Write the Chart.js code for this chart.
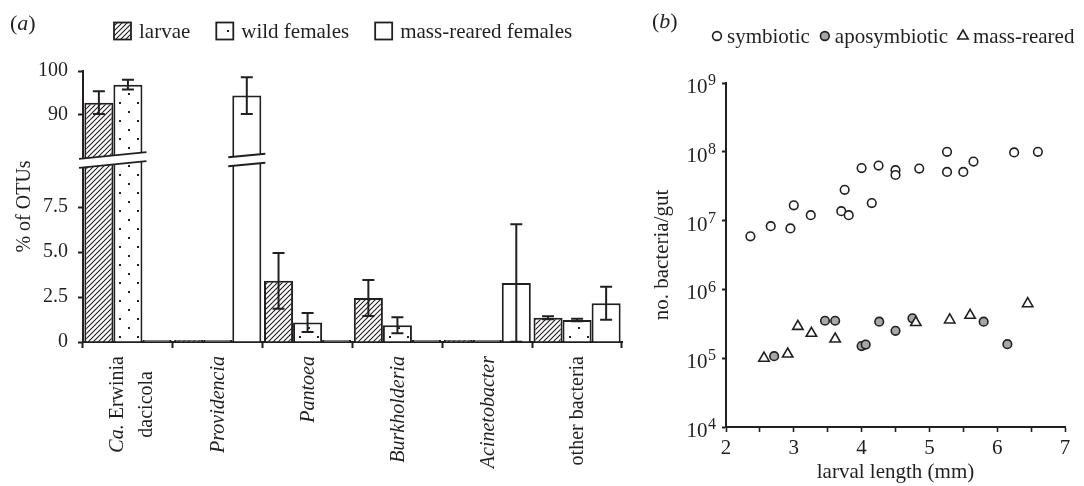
<!DOCTYPE html>
<html>
<head>
<meta charset="utf-8">
<script src="https://cdn.jsdelivr.net/npm/chart.js@4.4.1/dist/chart.umd.min.js"></script>
<style>
html, body { margin: 0; padding: 0; background: #fff; }
#wrap { position: relative; width: 1084px; height: 486px; overflow: hidden; background: #fff; }
#pa { position: absolute; left: 0; top: 0; }
#pb { position: absolute; left: 630px; top: 0; }
</style>
</head>
<body>
<div id="wrap">
  <canvas id="pa" width="630" height="486"></canvas>
  <canvas id="pb" width="454" height="486"></canvas>
</div>
<script>
// ---------------- data: panel (a) ----------------
const categories = [['Ca. Erwinia', 'dacicola'], 'Providencia', 'Pantoea', 'Burkholderia', 'Acinetobacter', 'other bacteria'];
const italicWords = ['Ca.', 'Providencia', 'Pantoea', 'Burkholderia', 'Acinetobacter'];
const seriesNames = ['larvae', 'wild females', 'mass-reared females'];
const larvae = [92.8, 0, 3.4, 2.45, 0, 1.35];
const larvaeErr = [2.6, 0, 1.55, 1.0, 0, 0.08];
const wildFemales = [96.9, 0, 1.08, 0.93, 0, 1.22];
const wildErr = [1.1, 0, 0.53, 0.45, 0, 0.07];
const massFemales = [0.08, 94.4, 0, 0, 3.28, 2.15];
const massErr = [0, 4.2, 0, 0, 3.26, 0.92];
const pctTicks = [0, 2.5, 5, 7.5, 90, 100];
const pctTickLabels = ['0', '2.5', '5.0', '7.5', '90', '100'];
const LOW_MAX = 10, HIGH_MIN = 79.3, HIGH_MAX = 100;

// ---------------- data: panel (b) ----------------
const symbioticLength = [2.36, 2.66, 2.95, 3.0, 3.25, 3.70, 3.75, 3.81, 4.0, 4.15, 4.25, 4.5, 4.5, 4.85, 5.26, 5.26, 5.5, 5.65, 6.25, 6.6];
const symbioticCount = [5.9e6, 8.3e6, 7.7e6, 1.67e7, 1.2e7, 1.37e7, 2.8e7, 1.2e7, 5.8e7, 1.8e7, 6.3e7, 5.4e7, 4.6e7, 5.7e7, 1.0e8, 5.1e7, 5.1e7, 7.2e7, 9.8e7, 1.0e8];
const aposymbioticLength = [2.71, 3.46, 3.61, 4.0, 4.06, 4.26, 4.5, 4.75, 5.8, 6.15];
const aposymbioticCount = [1.07e5, 3.5e5, 3.5e5, 1.5e5, 1.58e5, 3.4e5, 2.5e5, 3.8e5, 3.4e5, 1.6e5];
const massRearedLength = [2.56, 2.91, 3.06, 3.26, 3.61, 4.8, 5.3, 5.6, 6.45];
const massRearedCount = [1.0e5, 1.15e5, 2.9e5, 2.3e5, 1.9e5, 3.3e5, 3.6e5, 4.2e5, 6.2e5];
const lengthTicks = [2, 2.5, 3, 3.5, 4, 4.5, 5, 5.5, 6, 6.5, 7];
const countTicks = [1e4, 1e5, 1e6, 1e7, 1e8, 1e9];
const countTickBase = '10';
const countTickExponents = ['4', '5', '6', '7', '8', '9'];

// ---------------- styling ----------------
const INK = '#231f20';
const FAMILY = "'Liberation Serif', 'Times New Roman', serif";
const GREY = '#a7a7a7';
Chart.defaults.font.family = FAMILY;
Chart.defaults.color = INK;
Chart.defaults.devicePixelRatio = 1;

function hatchPattern() {
  const c = document.createElement('canvas'); c.width = 5; c.height = 5;
  const g = c.getContext('2d');
  g.fillStyle = '#fff'; g.fillRect(0, 0, 5, 5);
  g.strokeStyle = INK; g.lineWidth = 1.1;
  g.beginPath();
  g.moveTo(-1, 6); g.lineTo(6, -1);
  g.moveTo(-1, 1); g.lineTo(1, -1);
  g.moveTo(4, 6); g.lineTo(6, 4);
  g.stroke();
  return g.createPattern(c, 'repeat');
}
function dotPattern() {
  const c = document.createElement('canvas'); c.width = 18; c.height = 18;
  const g = c.getContext('2d');
  g.fillStyle = '#fff'; g.fillRect(0, 0, 18, 18);
  g.fillStyle = INK;
  g.fillRect(2, 3, 2, 2);
  g.fillRect(11, 12, 2, 2);
  return g.createPattern(c, 'repeat');
}

// ---------------- broken linear scale ----------------
const LinearScale = Chart.LinearScale || Chart.registry.getScale('linear');
const LOW_FRAC = 180 / 271;
class BrokenLinearScale extends LinearScale {
  _brk(v) {
    if (v <= LOW_MAX) return (v / LOW_MAX) * LOW_FRAC;
    if (v < HIGH_MIN) return LOW_FRAC;
    return LOW_FRAC + (v - HIGH_MIN) / (HIGH_MAX - HIGH_MIN) * (1 - LOW_FRAC);
  }
  getPixelForValue(value) {
    if (value === null || value === undefined || isNaN(value)) return NaN;
    return this.getPixelForDecimal(this._brk(value));
  }
  getValueForPixel(pixel) {
    const d = this.getDecimalForPixel(pixel);
    if (d <= LOW_FRAC) return d / LOW_FRAC * LOW_MAX;
    return HIGH_MIN + (d - LOW_FRAC) / (1 - LOW_FRAC) * (HIGH_MAX - HIGH_MIN);
  }
}
BrokenLinearScale.id = 'brokenLinear';
BrokenLinearScale.defaults = LinearScale.defaults;
Chart.register(BrokenLinearScale);

// ---------------- helpers ----------------
function drawPanelLabel(ctx, x, y, letter, size) {
  ctx.save();
  ctx.textBaseline = 'middle'; ctx.textAlign = 'left'; ctx.fillStyle = INK;
  let cx = x;
  [['(', ''], [letter, 'italic '], [')', '']].forEach(([t, st]) => {
    ctx.font = `${st}${size}px ${FAMILY}`;
    ctx.fillText(t, cx, y);
    cx += ctx.measureText(t).width;
  });
  ctx.restore();
}

// ---------------- panel (a) plugins ----------------
const breakMarks = {
  id: 'breakMarks',
  afterDatasetsDraw(chart) {
    const ctx = chart.ctx, ys = chart.scales.y, area = chart.chartArea;
    const ranges = [];
    chart.data.datasets.forEach((ds, di) => {
      chart.getDatasetMeta(di).data.forEach((bar, i) => {
        if (ds.data[i] > LOW_MAX) {
          const p = bar.getProps(['x', 'width'], true);
          ranges.push([p.x - p.width / 2, p.x + p.width / 2]);
        }
      });
    });
    ranges.sort((a, b) => a[0] - b[0]);
    const merged = [];
    ranges.forEach(r => {
      const last = merged[merged.length - 1];
      if (last && r[0] - last[1] < 3) last[1] = Math.max(last[1], r[1]);
      else merged.push([r[0], r[1]]);
    });
    merged.forEach(r => { if (r[0] - area.left < 6) r[0] = area.left; });
    const yc = ys.getPixelForValue(LOW_MAX) - 2;
    const slope = -0.1, half = 4.5, ext = 4;
    ctx.save();
    merged.forEach(([a, b]) => {
      const x0 = a - ext, x1 = b + ext, xm = (x0 + x1) / 2;
      const yAt = x => yc + slope * (x - xm);
      ctx.fillStyle = '#fff';
      ctx.beginPath();
      ctx.moveTo(x0, yAt(x0) - half); ctx.lineTo(x1, yAt(x1) - half);
      ctx.lineTo(x1, yAt(x1) + half); ctx.lineTo(x0, yAt(x0) + half);
      ctx.closePath(); ctx.fill();
      ctx.strokeStyle = INK; ctx.lineWidth = 2;
      ctx.beginPath();
      ctx.moveTo(x0, yAt(x0) - half); ctx.lineTo(x1, yAt(x1) - half);
      ctx.moveTo(x0, yAt(x0) + half); ctx.lineTo(x1, yAt(x1) + half);
      ctx.stroke();
    });
    ctx.restore();
  }
};

const errorBars = {
  id: 'errorBars',
  afterDatasetsDraw(chart) {
    const ctx = chart.ctx, ys = chart.scales.y;
    ctx.save();
    ctx.strokeStyle = INK; ctx.lineWidth = 2;
    chart.data.datasets.forEach((ds, di) => {
      chart.getDatasetMeta(di).data.forEach((bar, i) => {
        const e = ds.errors[i];
        if (!e) return;
        const v = ds.data[i];
        const x = bar.getProps(['x'], true).x;
        const t = ys.getPixelForValue(v + e), b = ys.getPixelForValue(Math.max(0, v - e));
        const cap = 6;
        ctx.beginPath();
        ctx.moveTo(x, t); ctx.lineTo(x, b);
        ctx.moveTo(x - cap, t); ctx.lineTo(x + cap, t);
        ctx.moveTo(x - cap, b); ctx.lineTo(x + cap, b);
        ctx.stroke();
      });
    });
    ctx.restore();
  }
};

const categoryLabels = {
  id: 'categoryLabels',
  afterDraw(chart) {
    const ctx = chart.ctx, xs = chart.scales.x;
    const size = 20, lineH = 29;
    const fontFor = w => (italicWords.includes(w) ? 'italic ' : '') + `${size}px ${FAMILY}`;
    const measure = line => {
      let w = 0;
      line.split(' ').forEach((word, k) => {
        ctx.font = fontFor(word);
        w += ctx.measureText(word).width + (k ? ctx.measureText(' ').width : 0);
      });
      return w;
    };
    ctx.save();
    ctx.fillStyle = INK; ctx.textBaseline = 'middle'; ctx.textAlign = 'left';
    const top = xs.top + 14;
    chart.data.labels.forEach((lab, i) => {
      const lines = Array.isArray(lab) ? lab : [lab];
      const widths = lines.map(measure);
      const W = Math.max(...widths);
      const x = xs.getPixelForTick(i);
      ctx.save();
      ctx.translate(x, top);
      ctx.rotate(-Math.PI / 2);
      lines.forEach((line, j) => {
        const ly = (j - (lines.length - 1) / 2) * lineH + (lines.length > 1 ? 3 : 0);
        let cx = -W / 2 - widths[j] / 2;
        line.split(' ').forEach((word, k) => {
          ctx.font = fontFor(word);
          if (k) cx += ctx.measureText(' ').width;
          ctx.fillText(word, cx, ly + 1);
          cx += ctx.measureText(word).width;
        });
      });
      ctx.restore();
    });
    ctx.restore();
  }
};

const legendA = {
  id: 'legendA',
  afterDraw(chart) {
    const ctx = chart.ctx;
    drawPanelLabel(ctx, 10, 24, 'a', 22);
    ctx.save();
    ctx.textBaseline = 'middle'; ctx.textAlign = 'left';
    ctx.font = `21px ${FAMILY}`;
    let x = 114; const y = 31, box = 17;
    chart.data.datasets.forEach(ds => {
      ctx.fillStyle = ds.backgroundColor;
      ctx.fillRect(x, y - box / 2, box, box);
      ctx.strokeStyle = INK; ctx.lineWidth = 1.8;
      ctx.strokeRect(x, y - box / 2, box, box);
      ctx.fillStyle = INK;
      ctx.fillText(ds.label, x + box + 8, y + 1);
      x += box + 8 + ctx.measureText(ds.label).width + 26;
    });
    ctx.restore();
  }
};

const barStyle = { borderColor: INK, borderWidth: 2, minBarLength: 2, categoryPercentage: 0.97, barPercentage: 1.0 };

new Chart(document.getElementById('pa'), {
  type: 'bar',
  data: {
    labels: categories,
    datasets: [
      Object.assign({ label: seriesNames[0], data: larvae, errors: larvaeErr, backgroundColor: hatchPattern() }, barStyle),
      Object.assign({ label: seriesNames[1], data: wildFemales, errors: wildErr, backgroundColor: dotPattern() }, barStyle),
      Object.assign({ label: seriesNames[2], data: massFemales, errors: massErr, backgroundColor: '#fff' }, barStyle)
    ]
  },
  options: {
    responsive: false,
    animation: false,
    devicePixelRatio: 1,
    layout: { padding: { top: 71, right: 8, left: 0, bottom: 0 } },
    plugins: { legend: { display: false }, tooltip: { enabled: false } },
    scales: {
      x: {
        type: 'category',
        offset: true,
        afterFit: s => { s.height = 144; },
        ticks: { display: false },
        grid: { offset: true, drawOnChartArea: false, tickLength: 6, tickWidth: 2, tickColor: INK },
        border: { color: INK, width: 2 }
      },
      y: {
        type: 'brokenLinear',
        min: 0, max: 100,
        afterFit: s => { s.width = 83; },
        afterBuildTicks: s => { s.ticks = pctTicks.map(v => ({ value: v })); },
        ticks: {
          autoSkip: false, padding: 10, color: INK,
          font: { size: 20 },
          callback: v => pctTickLabels[pctTicks.indexOf(v)]
        },
        grid: { drawOnChartArea: false, tickLength: 5, tickWidth: 2, tickColor: INK },
        border: { color: INK, width: 2 },
        title: { display: true, text: '% of OTUs', color: INK, font: { size: 20, lineHeight: 1.2 }, padding: { top: 13, bottom: 0 } }
      }
    }
  },
  plugins: [breakMarks, errorBars, categoryLabels, legendA]
});

// ---------------- panel (b) ----------------
const legendB = {
  id: 'legendB',
  afterDraw(chart) {
    const ctx = chart.ctx;
    drawPanelLabel(ctx, 22, 22, 'b', 22);
    ctx.save();
    ctx.textBaseline = 'middle'; ctx.textAlign = 'left';
    ctx.font = `21px ${FAMILY}`;
    let x = 87; const y = 36;
    chart.data.datasets.forEach(ds => {
      ctx.fillStyle = ds.backgroundColor; ctx.strokeStyle = ds.borderColor;
      ctx.lineWidth = 1.6;
      Chart.helpers.drawPoint(ctx, { pointStyle: ds.pointStyle, radius: ds.pointStyle === 'triangle' ? 6 : 4.4, borderWidth: 1.6, rotation: 0 }, x, y);
      ctx.fillStyle = INK;
      ctx.fillText(ds.label, x + 10, y + 1);
      x += 10 + ctx.measureText(ds.label).width + 15;
    });
    ctx.restore();
  }
};

// power-of-ten tick labels with a raised exponent, placed at the scale's own tick pixels
const powerLabels = {
  id: 'powerLabels',
  afterDraw(chart) {
    const ctx = chart.ctx, ys = chart.scales.y;
    const right = chart.chartArea.left - 10;
    ctx.save();
    ctx.fillStyle = INK; ctx.textBaseline = 'middle'; ctx.textAlign = 'left';
    ys.ticks.forEach(t => {
      const i = countTicks.indexOf(t.value);
      if (i < 0) return;
      const y = ys.getPixelForValue(t.value);
      ctx.font = `16px ${FAMILY}`;
      const ew = ctx.measureText(countTickExponents[i]).width;
      ctx.font = `21px ${FAMILY}`;
      const bw = ctx.measureText(countTickBase).width;
      const x0 = right - ew - bw - 0.5;
      ctx.fillText(countTickBase, x0, y + 4.5);
      ctx.font = `16px ${FAMILY}`;
      ctx.fillText(countTickExponents[i], x0 + bw + 0.5, y - 2);
    });
    ctx.restore();
  }
};

const pts = (xs, ys) => xs.map((x, i) => ({ x, y: ys[i] }));

new Chart(document.getElementById('pb'), {
  type: 'scatter',
  data: {
    datasets: [
      { label: 'symbiotic', data: pts(symbioticLength, symbioticCount), pointStyle: 'circle', pointRadius: 4.3, borderWidth: 1.6, backgroundColor: '#fff', borderColor: INK, order: 1 },
      { label: 'aposymbiotic', data: pts(aposymbioticLength, aposymbioticCount), pointStyle: 'circle', pointRadius: 4.3, borderWidth: 1.6, backgroundColor: GREY, borderColor: INK, order: 1 },
      { label: 'mass-reared', data: pts(massRearedLength, massRearedCount), pointStyle: 'triangle', pointRadius: 6, borderWidth: 1.6, backgroundColor: '#fff', borderColor: INK, order: 0 }
    ]
  },
  options: {
    responsive: false,
    animation: false,
    devicePixelRatio: 1,
    layout: { padding: { top: 83, right: 19, left: 0, bottom: 0 } },
    plugins: { legend: { display: false }, tooltip: { enabled: false } },
    scales: {
      x: {
        type: 'linear', min: 2, max: 7,
        afterFit: s => { s.height = 59; },
        afterBuildTicks: s => { s.ticks = lengthTicks.map(v => ({ value: v })); },
        ticks: { autoSkip: false, maxRotation: 0, padding: 4, color: INK, font: { size: 21 }, callback: v => (Number.isInteger(v) ? String(v) : '') },
        grid: { drawOnChartArea: false, tickLength: 5, tickWidth: 1.6, tickColor: INK },
        border: { color: INK, width: 2 },
        title: { display: true, text: 'larval length (mm)', color: INK, font: { size: 21, lineHeight: 1.2 }, padding: { top: 2, bottom: 1 } }
      },
      y: {
        type: 'logarithmic', min: 1e4, max: 1e9,
        afterFit: s => { s.width = 96; },
        afterBuildTicks: s => { s.ticks = countTicks.map(v => ({ value: v })); },
        ticks: { display: false, autoSkip: false },
        grid: { drawOnChartArea: false, tickLength: 4, tickWidth: 2, tickColor: INK },
        border: { color: INK, width: 2 },
        title: { display: true, text: 'no. bacteria/gut', color: INK, font: { size: 21, lineHeight: 1.2 }, padding: { top: 20, bottom: 0 } }
      }
    }
  },
  plugins: [legendB, powerLabels]
});
</script>
</body>
</html>
